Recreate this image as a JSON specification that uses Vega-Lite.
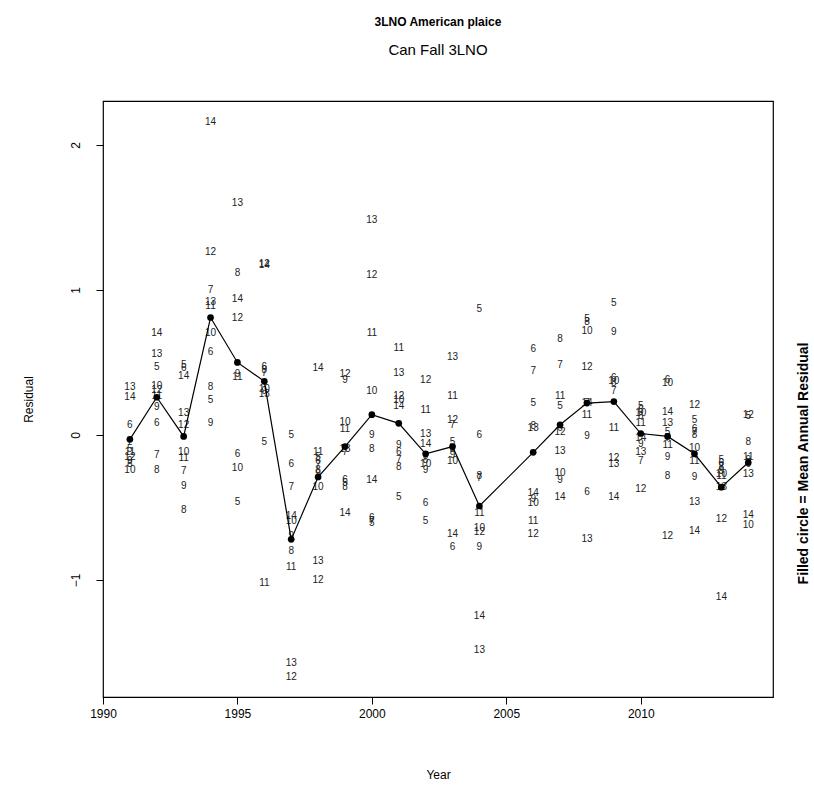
{
  "$schema": "https://vega.github.io/schema/vega-lite/v6.json",
  "width": 670,
  "height": 596,
  "autosize": {"type": "none"},
  "padding": {"left": 103, "top": 101, "right": 41, "bottom": 98},
  "background": "white",
  "config": {
    "font": "Liberation Sans",
    "view": {"stroke": "black", "strokeWidth": 1.2},
    "axis": {"grid": false, "domain": false, "tickColor": "black", "tickSize": 7, "labelColor": "black", "titleColor": "black", "labelFont": "Liberation Sans", "titleFont": "Liberation Sans", "labelFontSize": 12, "titleFontSize": 12, "titleFontWeight": "normal"}
  },
  "title": {
    "text": "3LNO American plaice",
    "subtitle": "Can Fall 3LNO",
    "anchor": "middle",
    "font": "Liberation Sans",
    "fontSize": 12,
    "fontWeight": "bold",
    "subtitleFont": "Liberation Sans",
    "subtitleFontSize": 15,
    "subtitleColor": "black",
    "color": "black",
    "subtitlePadding": 14,
    "offset": 42
  },
  "datasets": {
    "ages": [
      {"year":1991,"age":"13","residual":0.33},{"year":1991,"age":"14","residual":0.26},{"year":1991,"age":"6","residual":0.07},{"year":1991,"age":"7","residual":-0.05},{"year":1991,"age":"5","residual":-0.10},{"year":1991,"age":"11","residual":-0.12},{"year":1991,"age":"12","residual":-0.15},{"year":1991,"age":"9","residual":-0.18},{"year":1991,"age":"8","residual":-0.20},{"year":1991,"age":"10","residual":-0.24},
      {"year":1992,"age":"14","residual":0.70},{"year":1992,"age":"13","residual":0.56},{"year":1992,"age":"5","residual":0.47},{"year":1992,"age":"10","residual":0.34},{"year":1992,"age":"12","residual":0.31},{"year":1992,"age":"11","residual":0.27},{"year":1992,"age":"9","residual":0.19},{"year":1992,"age":"6","residual":0.08},{"year":1992,"age":"7","residual":-0.14},{"year":1992,"age":"8","residual":-0.24},
      {"year":1993,"age":"5","residual":0.48},{"year":1993,"age":"6","residual":0.46},{"year":1993,"age":"14","residual":0.41},{"year":1993,"age":"13","residual":0.15},{"year":1993,"age":"12","residual":0.07},{"year":1993,"age":"10","residual":-0.12},{"year":1993,"age":"11","residual":-0.16},{"year":1993,"age":"7","residual":-0.25},{"year":1993,"age":"9","residual":-0.35},{"year":1993,"age":"8","residual":-0.52},
      {"year":1994,"age":"14","residual":2.16},{"year":1994,"age":"12","residual":1.26},{"year":1994,"age":"7","residual":1.00},{"year":1994,"age":"13","residual":0.92},{"year":1994,"age":"11","residual":0.89},{"year":1994,"age":"10","residual":0.70},{"year":1994,"age":"6","residual":0.57},{"year":1994,"age":"8","residual":0.33},{"year":1994,"age":"5","residual":0.24},{"year":1994,"age":"9","residual":0.08},
      {"year":1995,"age":"13","residual":1.60},{"year":1995,"age":"8","residual":1.12},{"year":1995,"age":"14","residual":0.94},{"year":1995,"age":"12","residual":0.81},{"year":1995,"age":"9","residual":0.42},{"year":1995,"age":"11","residual":0.40},{"year":1995,"age":"6","residual":-0.13},{"year":1995,"age":"10","residual":-0.23},{"year":1995,"age":"5","residual":-0.46},
      {"year":1996,"age":"12","residual":1.18},{"year":1996,"age":"14","residual":1.17},{"year":1996,"age":"6","residual":0.47},{"year":1996,"age":"8","residual":0.45},{"year":1996,"age":"7","residual":0.43},{"year":1996,"age":"10","residual":0.32},{"year":1996,"age":"9","residual":0.30},{"year":1996,"age":"13","residual":0.28},{"year":1996,"age":"5","residual":-0.05},{"year":1996,"age":"11","residual":-1.02},
      {"year":1997,"age":"5","residual":0.00},{"year":1997,"age":"6","residual":-0.20},{"year":1997,"age":"7","residual":-0.36},{"year":1997,"age":"14","residual":-0.56},{"year":1997,"age":"10","residual":-0.59},{"year":1997,"age":"9","residual":-0.70},{"year":1997,"age":"8","residual":-0.80},{"year":1997,"age":"11","residual":-0.91},{"year":1997,"age":"13","residual":-1.57},{"year":1997,"age":"12","residual":-1.67},
      {"year":1998,"age":"14","residual":0.46},{"year":1998,"age":"11","residual":-0.12},{"year":1998,"age":"5","residual":-0.15},{"year":1998,"age":"6","residual":-0.18},{"year":1998,"age":"7","residual":-0.21},{"year":1998,"age":"8","residual":-0.24},{"year":1998,"age":"9","residual":-0.27},{"year":1998,"age":"10","residual":-0.36},{"year":1998,"age":"13","residual":-0.87},{"year":1998,"age":"12","residual":-1.00},
      {"year":1999,"age":"12","residual":0.42},{"year":1999,"age":"9","residual":0.38},{"year":1999,"age":"10","residual":0.09},{"year":1999,"age":"11","residual":0.04},{"year":1999,"age":"13","residual":-0.10},{"year":1999,"age":"7","residual":-0.12},{"year":1999,"age":"6","residual":-0.31},{"year":1999,"age":"5","residual":-0.33},{"year":1999,"age":"8","residual":-0.36},{"year":1999,"age":"14","residual":-0.54},
      {"year":2000,"age":"13","residual":1.48},{"year":2000,"age":"12","residual":1.10},{"year":2000,"age":"11","residual":0.70},{"year":2000,"age":"10","residual":0.30},{"year":2000,"age":"9","residual":0.00},{"year":2000,"age":"8","residual":-0.10},{"year":2000,"age":"14","residual":-0.31},{"year":2000,"age":"6","residual":-0.57},{"year":2000,"age":"7","residual":-0.59},{"year":2000,"age":"5","residual":-0.61},
      {"year":2001,"age":"11","residual":0.60},{"year":2001,"age":"13","residual":0.43},{"year":2001,"age":"12","residual":0.27},{"year":2001,"age":"10","residual":0.24},{"year":2001,"age":"14","residual":0.20},{"year":2001,"age":"9","residual":-0.07},{"year":2001,"age":"6","residual":-0.12},{"year":2001,"age":"7","residual":-0.17},{"year":2001,"age":"8","residual":-0.22},{"year":2001,"age":"5","residual":-0.43},
      {"year":2002,"age":"12","residual":0.38},{"year":2002,"age":"11","residual":0.17},{"year":2002,"age":"13","residual":0.01},{"year":2002,"age":"14","residual":-0.06},{"year":2002,"age":"7","residual":-0.15},{"year":2002,"age":"8","residual":-0.17},{"year":2002,"age":"10","residual":-0.20},{"year":2002,"age":"9","residual":-0.24},{"year":2002,"age":"6","residual":-0.47},{"year":2002,"age":"5","residual":-0.59},
      {"year":2003,"age":"13","residual":0.54},{"year":2003,"age":"11","residual":0.27},{"year":2003,"age":"12","residual":0.10},{"year":2003,"age":"7","residual":0.07},{"year":2003,"age":"5","residual":-0.05},{"year":2003,"age":"8","residual":-0.10},{"year":2003,"age":"9","residual":-0.14},{"year":2003,"age":"10","residual":-0.18},{"year":2003,"age":"14","residual":-0.68},{"year":2003,"age":"6","residual":-0.77},
      {"year":2004,"age":"5","residual":0.87},{"year":2004,"age":"6","residual":0.00},{"year":2004,"age":"8","residual":-0.28},{"year":2004,"age":"7","residual":-0.30},{"year":2004,"age":"11","residual":-0.54},{"year":2004,"age":"10","residual":-0.64},{"year":2004,"age":"12","residual":-0.67},{"year":2004,"age":"9","residual":-0.77},{"year":2004,"age":"14","residual":-1.25},{"year":2004,"age":"13","residual":-1.48},
      {"year":2006,"age":"6","residual":0.59},{"year":2006,"age":"7","residual":0.44},{"year":2006,"age":"5","residual":0.22},{"year":2006,"age":"8","residual":0.06},{"year":2006,"age":"13","residual":0.05},{"year":2006,"age":"14","residual":-0.40},{"year":2006,"age":"9","residual":-0.44},{"year":2006,"age":"10","residual":-0.47},{"year":2006,"age":"11","residual":-0.59},{"year":2006,"age":"12","residual":-0.68},
      {"year":2007,"age":"8","residual":0.66},{"year":2007,"age":"7","residual":0.48},{"year":2007,"age":"11","residual":0.27},{"year":2007,"age":"5","residual":0.20},{"year":2007,"age":"6","residual":0.05},{"year":2007,"age":"12","residual":0.02},{"year":2007,"age":"13","residual":-0.11},{"year":2007,"age":"10","residual":-0.26},{"year":2007,"age":"9","residual":-0.31},{"year":2007,"age":"14","residual":-0.43},
      {"year":2008,"age":"5","residual":0.80},{"year":2008,"age":"8","residual":0.78},{"year":2008,"age":"10","residual":0.72},{"year":2008,"age":"12","residual":0.47},{"year":2008,"age":"7","residual":0.22},{"year":2008,"age":"14","residual":0.22},{"year":2008,"age":"11","residual":0.14},{"year":2008,"age":"9","residual":-0.01},{"year":2008,"age":"6","residual":-0.39},{"year":2008,"age":"13","residual":-0.72},
      {"year":2009,"age":"5","residual":0.91},{"year":2009,"age":"9","residual":0.71},{"year":2009,"age":"6","residual":0.39},{"year":2009,"age":"10","residual":0.37},{"year":2009,"age":"8","residual":0.36},{"year":2009,"age":"7","residual":0.30},{"year":2009,"age":"11","residual":0.05},{"year":2009,"age":"12","residual":-0.16},{"year":2009,"age":"13","residual":-0.20},{"year":2009,"age":"14","residual":-0.43},
      {"year":2010,"age":"5","residual":0.20},{"year":2010,"age":"6","residual":0.17},{"year":2010,"age":"10","residual":0.15},{"year":2010,"age":"8","residual":0.13},{"year":2010,"age":"11","residual":0.08},{"year":2010,"age":"14","residual":-0.02},{"year":2010,"age":"9","residual":-0.06},{"year":2010,"age":"13","residual":-0.12},{"year":2010,"age":"7","residual":-0.18},{"year":2010,"age":"12","residual":-0.37},
      {"year":2011,"age":"6","residual":0.38},{"year":2011,"age":"10","residual":0.36},{"year":2011,"age":"14","residual":0.16},{"year":2011,"age":"13","residual":0.08},{"year":2011,"age":"5","residual":0.02},{"year":2011,"age":"7","residual":-0.02},{"year":2011,"age":"11","residual":-0.07},{"year":2011,"age":"9","residual":-0.15},{"year":2011,"age":"8","residual":-0.28},{"year":2011,"age":"12","residual":-0.70},
      {"year":2012,"age":"12","residual":0.21},{"year":2012,"age":"5","residual":0.10},{"year":2012,"age":"6","residual":0.04},{"year":2012,"age":"7","residual":0.02},{"year":2012,"age":"8","residual":0.00},{"year":2012,"age":"10","residual":-0.09},{"year":2012,"age":"11","residual":-0.18},{"year":2012,"age":"9","residual":-0.29},{"year":2012,"age":"13","residual":-0.46},{"year":2012,"age":"14","residual":-0.66},
      {"year":2013,"age":"5","residual":-0.17},{"year":2013,"age":"6","residual":-0.19},{"year":2013,"age":"7","residual":-0.22},{"year":2013,"age":"8","residual":-0.22},{"year":2013,"age":"9","residual":-0.25},{"year":2013,"age":"10","residual":-0.27},{"year":2013,"age":"11","residual":-0.28},{"year":2013,"age":"13","residual":-0.36},{"year":2013,"age":"12","residual":-0.58},{"year":2013,"age":"14","residual":-1.12},
      {"year":2014,"age":"12","residual":0.14},{"year":2014,"age":"5","residual":0.13},{"year":2014,"age":"8","residual":-0.05},{"year":2014,"age":"11","residual":-0.15},{"year":2014,"age":"9","residual":-0.17},{"year":2014,"age":"7","residual":-0.19},{"year":2014,"age":"6","residual":-0.20},{"year":2014,"age":"13","residual":-0.27},{"year":2014,"age":"14","residual":-0.55},{"year":2014,"age":"10","residual":-0.62}
    ],
    "means": [
      {"year":1991,"mean":-0.03},{"year":1992,"mean":0.26},{"year":1993,"mean":-0.01},{"year":1994,"mean":0.81},{"year":1995,"mean":0.50},{"year":1996,"mean":0.37},{"year":1997,"mean":-0.72},{"year":1998,"mean":-0.29},{"year":1999,"mean":-0.08},{"year":2000,"mean":0.14},{"year":2001,"mean":0.08},{"year":2002,"mean":-0.13},{"year":2003,"mean":-0.08},{"year":2004,"mean":-0.49},{"year":2006,"mean":-0.12},{"year":2007,"mean":0.07},{"year":2008,"mean":0.22},{"year":2009,"mean":0.23},{"year":2010,"mean":0.01},{"year":2011,"mean":-0.01},{"year":2012,"mean":-0.13},{"year":2013,"mean":-0.36},{"year":2014,"mean":-0.19}
    ]
  },
  "resolve": {"axis": {"y": "independent"}},
  "layer": [
    {
      "data": {"name": "ages"},
      "mark": {"type": "text", "fontSize": 10, "font": "Liberation Sans", "color": "#222222", "baseline": "middle", "align": "center"},
      "encoding": {
        "x": {"field": "year", "type": "quantitative", "scale": {"domain": [1990, 2014.92], "nice": false, "zero": false},
              "axis": {"title": "Year", "values": [1990, 1995, 2000, 2005, 2010], "format": "d", "labelPadding": 4, "titlePadding": 50, "labelFlush": false}},
        "y": {"field": "residual", "type": "quantitative", "scale": {"domain": [-1.807, 2.303], "nice": false, "zero": false},
              "axis": {"title": "Residual", "values": [-1, 0, 1, 2], "labelAngle": -90, "labelAlign": "center", "labelBaseline": "bottom", "labelPadding": 14, "titlePadding": 34}},
        "text": {"field": "age"}
      }
    },
    {
      "mark": {"type": "rule", "color": "black", "strokeWidth": 1.5},
      "encoding": {"y": {"datum": 0, "axis": null}}
    },
    {
      "data": {"name": "means"},
      "mark": {"type": "line", "color": "black", "strokeWidth": 1.2, "point": {"filled": true, "color": "black", "size": 45}},
      "encoding": {
        "x": {"field": "year", "type": "quantitative"},
        "y": {"field": "mean", "type": "quantitative",
              "axis": {"orient": "right", "title": "Filled circle = Mean Annual Residual", "labels": false, "ticks": false, "titleAngle": 270, "titleFontWeight": "bold", "titleFontSize": 14, "titlePadding": 37, "titleY": 362}}
      }
    }
  ]
}
